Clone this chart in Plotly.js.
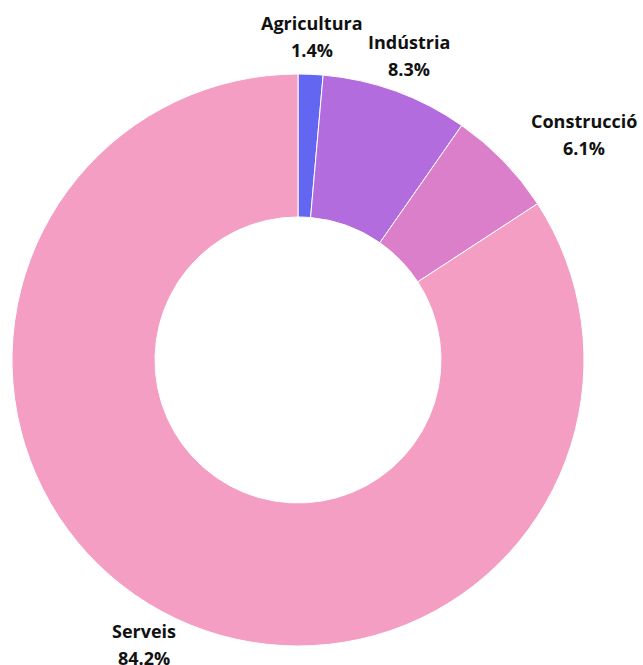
<!DOCTYPE html>
<html><head><meta charset="utf-8">
<script src="https://cdn.plot.ly/plotly-3.0.1.min.js"></script>
<style>html,body{margin:0;padding:0;background:#fff;}#chart{width:643px;height:665px;}</style>
</head><body><div id="chart"></div>
<script>
const labels = ["Agricultura", "Indústria", "Construcció", "Serveis"];
const values = [1.4, 8.3, 6.1, 84.2];
const colors = ["#6366f1", "#b36cdd", "#dc7fcb", "#f59ec4"];

const W = 643, H = 665;
const margin = {l: 12, r: 59, t: 74, b: 19};
const plotW = W - margin.l - margin.r, plotH = H - margin.t - margin.b;
const R = Math.min(plotW, plotH) / 2;
const labelR = R + 38;
const FONT = "Open Sans", FS = 18;

const ctx = document.createElement("canvas").getContext("2d");
ctx.font = "bold " + FS + "px '" + FONT + "'";
function textW(t) { return ctx.measureText(t).width; }

const total = values.reduce((a, b) => a + b, 0);
const annotations = [];
let cum = 0;
values.forEach((v, i) => {
  const mid = (cum + v / 2) / total * 2 * Math.PI;
  cum += v;
  const s = Math.sin(mid);
  const dx = labelR * s, dy = -labelR * Math.cos(mid);
  let px = plotW / 2 + dx;
  const py = plotH / 2 + dy;
  const pct = (v / total * 100).toFixed(1) + "%";
  const blockW = Math.max(textW(labels[i]), textW(pct));
  if (Math.abs(s) > 0.6) px += (s > 0 ? 1 : -1) * blockW / 2;
  [[labels[i], -13.5], [pct, 13.5]].forEach(([t, off]) => {
    annotations.push({
      xref: "paper", yref: "paper",
      x: px / plotW, y: 1 - (py + off) / plotH,
      text: "<b>" + t + "</b>", showarrow: false,
      xanchor: "center", yanchor: "middle",
      font: {family: FONT, size: FS, color: "#111111"}
    });
  });
});

Plotly.newPlot("chart", [{
  type: "pie",
  labels: labels,
  values: values,
  hole: 0.5,
  sort: false,
  direction: "clockwise",
  rotation: 0,
  marker: {colors: colors, line: {color: "#ffffff", width: 1}},
  textinfo: "none",
  showlegend: false
}], {
  width: W, height: H,
  margin: margin,
  paper_bgcolor: "#ffffff",
  showlegend: false,
  annotations: annotations
}, {displayModeBar: false, staticPlot: true});
</script></body></html>
